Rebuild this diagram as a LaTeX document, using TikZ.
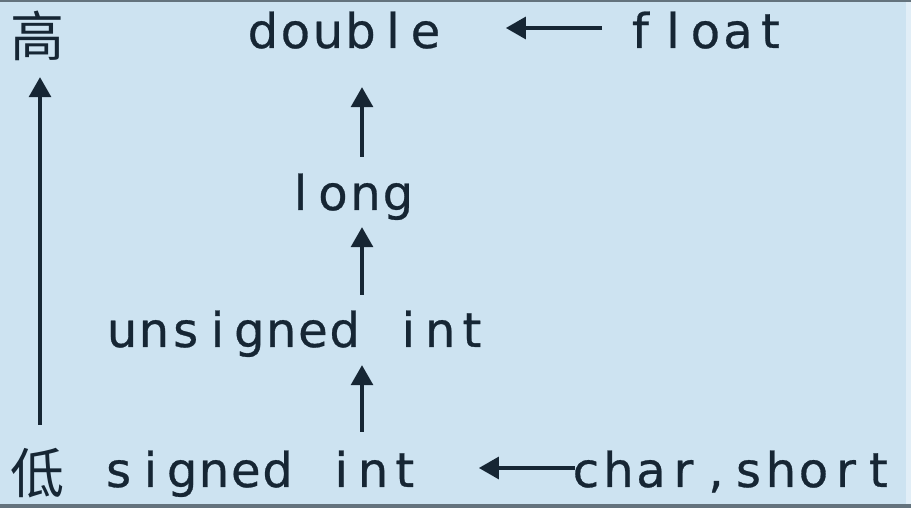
\documentclass[tikz,border=0pt]{standalone}
\usepackage{fontspec}
\setmainfont{DejaVu Sans}[FakeBold=0.5]
\newfontfamily\latfont{DejaVu Sans}[FakeBold=0.6]
\newfontfamily\cjkfont{Noto Sans CJK SC}
\usetikzlibrary{arrows.meta}
\definecolor{bgblue}{RGB}{205,227,241}
\definecolor{inkc}{RGB}{22,38,52}
\definecolor{edgegray}{RGB}{100,115,125}
\newdimen\monowd \monowd=32.5pt
\def\monoch#1{\monoA#1\monoend}
\def\monoA#1{\ifx#1\monoend\else\makebox[\monowd]{#1}\expandafter\monoA\fi}
\tikzset{
  word/.style={anchor=base west, inner sep=0pt, text height=36pt, text depth=11pt,
    font=\latfont\fontsize{48}{58}\selectfont, text=inkc},
  hanzi/.style={anchor=center, inner sep=0pt, text height=47.5pt, text depth=6.5pt,
    font=\cjkfont\fontsize{54}{60}\selectfont, text=inkc},
  arr/.style={draw=inkc, line width=3.2pt, -{Triangle[width=22pt,length=20pt]}},
}
\begin{document}
\begin{tikzpicture}[x=1pt,y=1pt]
\fill[bgblue] (0,0) rectangle (911,508);
\useasboundingbox (0,0) rectangle (911,508);
\fill[edgegray] (0,506) rectangle (911,508);
\fill[edgegray] (0,0) rectangle (911,4);
\fill[white!40!bgblue] (906,4) rectangle (911,506);
\coordinate (axis) at (362,0);
\coordinate (laxis) at (40,0);
\node[hanzi] (gao) at (37.5,472) {高};
\node[hanzi] (di) at (37.5,35) {低};
\node[word] (double) at (246.5,460) {\monoch{double}};
\node[word] (float) at (624,460) {\monoch{float}};
\node[word] (long) at (284,298) {\monoch{long}};
\node[word] (unsigned) at (106,161) {\monowd=31.8pt\monoch{unsigned~int}};
\node[word] (signed) at (102.5,21) {\monowd=31.8pt\monoch{signed~int}};
\node[word] (char) at (569.5,21) {\monoch{char,short}};
\draw[arr, shorten <=17pt, shorten >=28pt] (long.north -| axis) -- (double.south -| axis);
\draw[arr, shorten <=16pt, shorten >=6pt] (unsigned.north -| axis) -- (long.south -| axis);
\draw[arr, shorten <=19pt, shorten >=7pt] (signed.north -| axis) -- (unsigned.south -| axis);
\draw[arr, shorten <=21pt, shorten >=14pt] (di.north -| laxis) -- (gao.south -| laxis);
\draw[arr] ([xshift=-22pt,yshift=7.5pt]float.west) -- ([xshift=64pt,yshift=7.5pt]double.east);
\draw[arr] ([xshift=5.5pt,yshift=6.5pt]char.west) -- ([xshift=58pt,yshift=6.5pt]signed.east);
\end{tikzpicture}
\end{document}
